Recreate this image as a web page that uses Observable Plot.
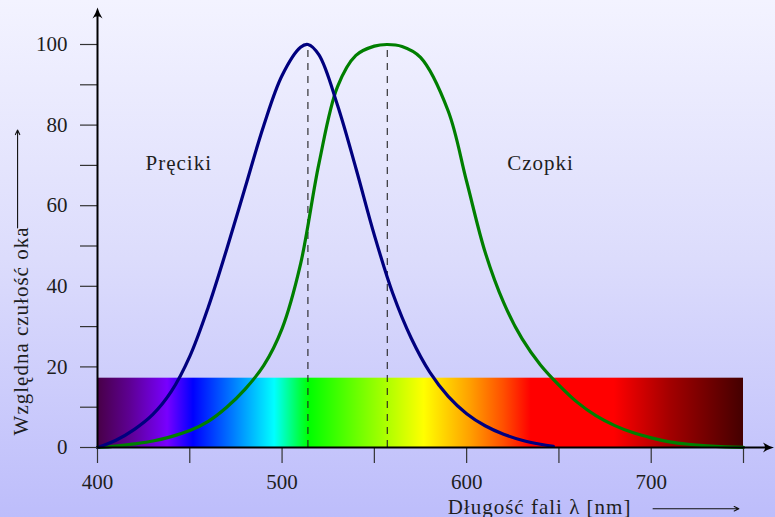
<!DOCTYPE html>
<html><head><meta charset="utf-8">
<script src="https://cdn.jsdelivr.net/npm/d3@7"></script>
<script src="https://cdn.jsdelivr.net/npm/@observablehq/plot@0.6"></script>
<style>
html,body{margin:0;padding:0;background:#dadafd;}
#chart{width:775px;height:517px;}
</style></head><body><div id="chart"></div>
<script>
// Rods (Pręciki): wavelength [nm] -> relative sensitivity
const rodNm  = [400, 410, 420, 430, 440, 450, 460, 470, 480, 490, 500, 510, 514, 520, 530, 540, 550, 560, 570, 580, 590, 600, 610, 620, 630, 640, 647];
const rodVal = [0, 1.8, 4.5, 8.2, 13.9, 22.6, 34.8, 49.2, 64.5, 79.8, 92.3, 99.3, 100, 97.4, 85, 69.3, 52.7, 38.2, 27.1, 18.7, 12.7, 8.4, 5.4, 3.3, 1.8, 0.8, 0.3];
// Cones (Czopki)
const coneNm  = [400, 410, 420, 430, 440, 450, 460, 470, 480, 490, 500, 510, 520, 530, 540, 550, 557, 565, 575, 590, 600, 610, 620, 630, 640, 650, 660, 670, 680, 690, 700, 710, 720, 730, 740, 750];
const coneVal = [0, 0.35, 0.9, 1.6, 2.7, 4.2, 6.5, 10, 14.5, 20.3, 29.5, 45.5, 70.5, 89.5, 97.3, 99.6, 100, 99.5, 96.8, 83.5, 66, 48.5, 36, 27, 20.5, 15.5, 11.2, 7.9, 5.5, 3.7, 2.4, 1.4, 0.8, 0.4, 0.15, 0.05];
// Peak wavelengths (dashed lines)
const peakNm = [514, 557];
// Visible spectrum band
const specRange = [400, 750];
const specTop = 17.2;
const specNm    = [400, 418, 438, 452, 472, 496, 515, 544, 577, 602, 620, 635, 680, 710, 750];
const specColor = ["#480046", "#5e0094", "#7800ff", "#0000ff", "#0072ff", "#00ffff", "#00ff00", "#78ff00", "#ffff00", "#ffa000", "#ff5000", "#ff0000", "#ff0000", "#a40000", "#440000"];
// Axes
const xTicks = [400, 450, 500, 550, 600, 650, 700, 750];
const xLabels = [400, 500, 600, 700];
const yTicks = [0, 10, 20, 30, 40, 50, 60, 70, 80, 90, 100];
const yLabels = [0, 20, 40, 60, 80, 100];
const labels = ["Pręciki", "Czopki"];
const xTitle = "Długość fali λ [nm]";
const yTitle = "Względna czułość oka";

const rods = rodNm.map((x, i) => ({x, y: rodVal[i]}));
const cones = coneNm.map((x, i) => ({x, y: coneVal[i]}));

const arrowSym = {
  draw(ctx) {
    const L = 11, W = 5;
    ctx.moveTo(0, 0);
    ctx.quadraticCurveTo(-L * 0.5, -W * 0.3, -L, -W);
    ctx.quadraticCurveTo(-L * 0.62, 0, -L, W);
    ctx.quadraticCurveTo(-L * 0.5, W * 0.3, 0, 0);
    ctx.closePath();
  }
};

const font = "'Liberation Serif', 'DejaVu Serif', serif";
const textColor = "#1e1e1e";

const plot = Plot.plot({
  width: 775,
  height: 517,
  marginLeft: 97,
  marginRight: 32,
  marginTop: 44,
  marginBottom: 70,
  x: {domain: [400, 750]},
  y: {domain: [0, 100]},
  style: {
    fontFamily: font,
    fontSize: "21px",
    color: textColor,
    background: "linear-gradient(to bottom, #f3f3ff 0%, #dcdcfc 50%, #bdbdfb 100%)",
    overflow: "visible"
  },
  marks: [
    Plot.rect([specRange], {x1: d => d[0], x2: d => d[1], y1: 0, y2: specTop, fill: "url(#spectrum)"}),
    Plot.ruleX(peakNm, {y1: 0, y2: 100, stroke: "#222", strokeWidth: 1.1, strokeDasharray: "7,6"}),
    Plot.line(cones, {x: "x", y: "y", stroke: "#007f00", strokeWidth: 3.2, curve: "catmull-rom"}),
    Plot.line(rods, {x: "x", y: "y", stroke: "#00007f", strokeWidth: 3.2, curve: "catmull-rom"}),
    Plot.axisX({ticks: xTicks, tickSize: 16, tickPadding: 11, tickFormat: d => xLabels.includes(d) ? String(d) : "", label: null, stroke: "#333", strokeWidth: 1.2, fill: textColor, fontSize: 21}),
    Plot.axisY({ticks: yTicks, tickSize: 17, tickPadding: 13, tickFormat: d => yLabels.includes(d) ? String(d) : "", label: null, stroke: "#333", strokeWidth: 1.2, fill: textColor, fontSize: 21}),
    Plot.ruleY([0], {x1: 400, x2: 763, stroke: "#000", strokeWidth: 2}),
    Plot.ruleX([400], {y1: 0, y2: 107.6, stroke: "#000", strokeWidth: 2}),
    Plot.dot([[766.5, 0, 0], [400, 109.2, -90]], {x: d => d[0], y: d => d[1], rotate: d => d[2], symbol: arrowSym, fill: "#000", stroke: null, r: 5}),
    Plot.text(labels, {x: [444, 640], y: [68.8, 68.8], text: d => d, textAnchor: "middle", lineAnchor: "bottom", fill: textColor, fontSize: 21}),
    Plot.text([xTitle], {x: 639.5, frameAnchor: "bottom", dy: 66, text: d => d, textAnchor: "middle", lineAnchor: "bottom", fill: textColor, fontSize: 21}),
    Plot.arrow([[701, 747.5]], {x1: d => d[0], x2: d => d[1], y1: -15.2, y2: -15.2, stroke: "#111", strokeWidth: 1.1, headLength: 7, headAngle: 50}),
    Plot.text([yTitle], {frameAnchor: "left", y: 3, dx: -70, rotate: -90, text: d => d, textAnchor: "start", lineAnchor: "bottom", fill: textColor, fontSize: 21}),
    Plot.arrow([[54.5, 78.8]], {x1: 356.7, x2: 356.7, y1: d => d[0], y2: d => d[1], stroke: "#111", strokeWidth: 1.1, headLength: 7, headAngle: 50})
  ]
});

const svg = d3.select(plot);
const grad = svg.insert("defs", ":first-child").append("linearGradient")
  .attr("id", "spectrum").attr("x1", "0").attr("x2", "1").attr("y1", "0").attr("y2", "0");
specNm.forEach((w, i) => {
  grad.append("stop")
    .attr("offset", (w - specRange[0]) / (specRange[1] - specRange[0]))
    .attr("stop-color", specColor[i]);
});
svg.selectAll('g[aria-label="text"] text').style("letter-spacing", "1px");

document.getElementById("chart").appendChild(plot);
</script>
</body></html>
